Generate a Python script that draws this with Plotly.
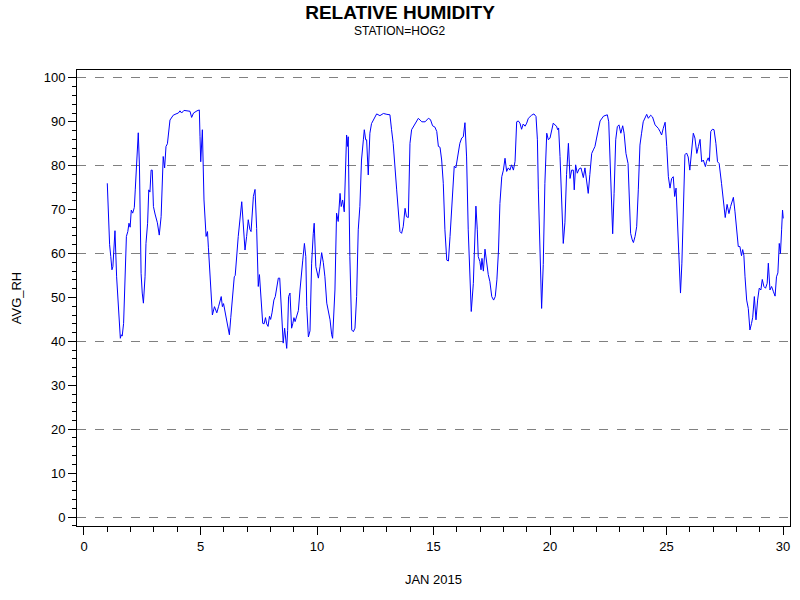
import plotly.graph_objects as go

days = [
    1.00, 1.04, 1.10, 1.15, 1.20, 1.24, 1.29, 1.33, 1.40, 1.47, 1.53, 1.56, 1.60, 1.64, 1.70, 1.76, 1.82, 1.88, 1.93, 1.98,
    2.03, 2.09, 2.16, 2.20, 2.27, 2.33, 2.38, 2.45, 2.50, 2.55, 2.62, 2.66, 2.73, 2.78, 2.83, 2.88, 2.93, 2.98,
    3.05, 3.15, 3.23, 3.31, 3.40, 3.46, 3.52, 3.58, 3.69, 3.83, 3.95,
    4.05, 4.12, 4.19, 4.29, 4.40, 4.55, 4.62, 4.70, 4.85, 4.95, 4.98,
    5.01, 5.08, 5.15, 5.24, 5.30, 5.34, 5.41, 5.51, 5.60, 5.70, 5.78, 5.89, 5.94, 5.99,
    6.08, 6.15, 6.24, 6.30, 6.38, 6.45, 6.49, 6.55, 6.62, 6.77, 6.84, 6.91, 6.98,
    7.05, 7.12, 7.17, 7.27, 7.34, 7.41, 7.48, 7.53, 7.60, 7.67, 7.73, 7.79, 7.84, 7.90, 7.96,
    8.01, 8.07, 8.15, 8.21, 8.27, 8.34, 8.40, 8.46, 8.51, 8.55, 8.61, 8.70, 8.74, 8.78, 8.84, 8.91, 8.96,
    9.01, 9.06, 9.13, 9.20, 9.27, 9.33, 9.39, 9.46, 9.52, 9.56, 9.63, 9.70, 9.77, 9.84, 9.88, 9.95,
    10.06, 10.13, 10.20, 10.27, 10.34, 10.42, 10.49, 10.56, 10.63, 10.67, 10.77, 10.84, 10.91, 10.99,
    11.04, 11.10, 11.17, 11.27, 11.31, 11.34, 11.41, 11.49, 11.56, 11.63, 11.70, 11.77, 11.84, 11.91, 11.99,
    12.03, 12.09, 12.13, 12.20, 12.27, 12.34, 12.45, 12.56, 12.70, 12.85,
    13.00, 13.13, 13.20, 13.27, 13.42, 13.56, 13.63, 13.70, 13.78, 13.84, 13.92, 13.99,
    14.06, 14.21, 14.35, 14.50, 14.64, 14.78, 14.87, 14.96,
    15.06, 15.14, 15.21, 15.28, 15.35, 15.42, 15.49, 15.57, 15.64, 15.71, 15.78, 15.85, 15.89, 15.96,
    16.06, 16.13, 16.21, 16.28, 16.35, 16.42, 16.49, 16.57, 16.62, 16.71, 16.78, 16.82, 16.88, 16.92, 16.99,
    17.04, 17.08, 17.14, 17.21, 17.28, 17.35, 17.42, 17.50, 17.58, 17.65, 17.72, 17.79, 17.85, 17.93,
    18.00, 18.07, 18.14, 18.21, 18.28, 18.35, 18.43, 18.50, 18.57, 18.64, 18.71, 18.78, 18.85, 18.93,
    19.00, 19.07, 19.21, 19.31, 19.40, 19.46, 19.50, 19.57, 19.64, 19.71, 19.78, 19.86, 19.93,
    20.00, 20.07, 20.14, 20.21, 20.28, 20.33, 20.37, 20.43, 20.50, 20.57, 20.64, 20.71, 20.79, 20.86, 20.93,
    21.00, 21.04, 21.10, 21.17, 21.25, 21.33, 21.43, 21.50, 21.57, 21.64, 21.71, 21.79, 21.86, 21.93,
    22.00, 22.07, 22.15, 22.30, 22.46, 22.52, 22.58, 22.64, 22.69, 22.75, 22.82, 22.89, 22.96,
    23.04, 23.12, 23.18, 23.26, 23.35, 23.40, 23.46, 23.53, 23.58, 23.65, 23.72, 23.79, 23.86, 23.93,
    24.00, 24.15, 24.22, 24.32, 24.40, 24.51, 24.58, 24.65, 24.72, 24.79, 24.86, 24.94,
    25.01, 25.08, 25.15, 25.22, 25.29, 25.35, 25.41, 25.48, 25.55, 25.60, 25.66, 25.72, 25.79, 25.86, 25.93,
    26.00, 26.08, 26.15, 26.22, 26.30, 26.37, 26.44, 26.51, 26.58, 26.67, 26.72, 26.79, 26.84, 26.90, 26.97,
    27.04, 27.12, 27.19, 27.26, 27.36, 27.44, 27.52, 27.60, 27.68, 27.75, 27.87, 27.94,
    28.01, 28.08, 28.15, 28.22, 28.27, 28.32, 28.37, 28.44, 28.51, 28.58, 28.65, 28.70, 28.77, 28.84, 28.91, 28.98,
    29.05, 29.11, 29.18, 29.25, 29.32, 29.37, 29.44, 29.51, 29.59, 29.66, 29.72, 29.78, 29.84, 29.89, 29.94, 29.98,
    30.01,
]

avg_rh = [
    76.0, 70.0, 62.0, 59.3, 56.3, 57.0, 63.9, 65.2, 54.7, 47.2, 42.0, 40.7, 41.5, 41.2, 44.1, 54.7, 63.9, 65.0, 66.9, 66.0,
    69.9, 69.2, 70.5, 74.5, 82.1, 87.5, 80.0, 55.5, 51.0, 48.7, 54.7, 62.3, 66.9, 74.5, 74.0, 79.0, 79.0, 70.7,
    69.0, 67.0, 64.2, 68.4, 82.1, 79.5, 84.4, 85.0, 90.4, 91.5, 91.8,
    92.0, 92.5, 92.0, 92.6, 92.5, 92.4, 91.0, 92.0, 92.5, 92.7, 86.6,
    80.9, 88.2, 72.2, 63.9, 65.0, 61.3, 54.7, 46.0, 47.9, 46.5, 48.0, 50.2, 47.9, 48.6,
    46.0, 43.7, 41.5, 45.4, 51.7, 54.7, 55.0, 60.0, 63.9, 71.8, 66.0, 60.8, 63.9,
    67.7, 65.5, 65.0, 73.0, 74.6, 65.7, 52.5, 55.2, 50.2, 44.1, 44.0, 45.4, 44.0, 43.4, 45.7,
    45.0, 46.5, 49.4, 50.2, 52.5, 54.4, 54.4, 47.9, 41.8, 39.6, 43.0, 38.4, 42.5, 50.2, 51.0, 43.0, 44.0,
    45.4, 44.5, 45.9, 47.0, 51.7, 54.4, 58.5, 62.3, 59.3, 47.9, 41.0, 42.4, 57.8, 64.6, 66.9, 57.0,
    54.4, 57.0, 60.2, 58.0, 54.7, 48.7, 46.5, 44.9, 41.5, 40.7, 51.7, 69.2, 67.3, 73.7,
    70.7, 72.2, 69.5, 87.0, 84.4, 86.6, 59.3, 42.6, 42.2, 43.0, 50.2, 65.4, 70.7, 81.3, 85.9,
    88.2, 85.9, 85.9, 77.9, 87.4, 89.6, 90.8, 91.8, 91.4, 91.9,
    91.7, 91.6, 88.2, 85.1, 74.5, 65.0, 64.6, 66.1, 70.3, 68.4, 68.2, 85.1,
    88.2, 89.7, 90.8, 90.0, 90.0, 90.8, 90.5, 89.1,
    88.8, 87.8, 84.4, 84.2, 81.3, 76.0, 65.4, 58.5, 58.3, 63.9, 70.7, 77.5, 79.9, 79.5,
    82.8, 85.1, 86.3, 86.6, 89.8, 82.0, 65.4, 51.7, 46.8, 53.2, 65.4, 70.8, 65.4, 59.3, 58.2,
    56.3, 58.9, 56.0, 61.0, 57.8, 55.2, 53.6, 50.2, 49.4, 50.2, 54.0, 60.8, 71.4, 77.5,
    79.0, 81.7, 78.7, 79.5, 79.0, 80.2, 79.0, 81.0, 90.0, 90.2, 89.7, 88.3, 89.5, 89.0,
    89.7, 90.8, 91.5, 91.8, 91.2, 85.9, 74.5, 59.3, 47.5, 57.5, 76.0, 87.4, 85.9,
    86.3, 88.2, 89.7, 89.3, 89.0, 88.2, 88.6, 82.1, 70.7, 62.3, 67.0, 78.0, 85.1, 77.1, 79.0,
    79.0, 74.5, 80.2, 78.3, 79.3, 79.5, 77.3, 79.5, 76.5, 73.7, 78.0, 82.8, 83.6, 84.4,
    86.3, 88.5, 90.2, 91.3, 91.6, 90.0, 80.5, 70.7, 64.5, 73.7, 85.9, 88.9, 89.3,
    87.4, 89.1, 87.4, 82.8, 80.5, 72.2, 64.6, 63.1, 62.5, 63.9, 66.1, 74.5, 84.7, 87.4,
    90.0, 91.7, 90.8, 91.5, 91.1, 89.3, 88.9, 88.5, 87.8, 87.0, 88.5, 89.9,
    84.4, 77.5, 74.9, 77.1, 77.5, 73.0, 74.9, 65.4, 57.0, 51.0, 57.8, 70.7, 82.5, 82.9, 82.0,
    79.0, 82.8, 87.4, 86.3, 82.8, 84.4, 86.0, 80.9, 81.3, 79.8, 81.0, 81.8, 81.0, 87.8, 88.3,
    88.2, 85.1, 80.9, 80.5, 76.0, 72.2, 68.2, 71.2, 69.1, 70.7, 72.8, 69.5,
    65.4, 61.6, 61.6, 59.5, 60.9, 59.6, 54.7, 49.4, 47.5, 42.6, 44.1, 45.5, 50.2, 44.9, 49.4, 52.1,
    51.7, 54.1, 52.5, 52.1, 53.2, 57.8, 51.7, 52.5, 51.3, 50.3, 54.7, 55.6, 62.3, 60.0, 65.4, 69.9,
    68.0,
]

x_ticks = [0, 5, 10, 15, 20, 25, 30]
y_ticks = [0, 10, 20, 30, 40, 50, 60, 70, 80, 90, 100]
grid_levels = [0, 20, 40, 60, 80, 100]

FONT = "Liberation Sans, Arial, sans-serif"

fig = go.Figure()
fig.add_trace(go.Scatter(
    x=days, y=avg_rh, mode="lines",
    line=dict(color="#0000FF", width=1),
    showlegend=False, hoverinfo="x+y",
))

yrange = [-2.05, 101.8]

fig.update_layout(
    width=800, height=600,
    paper_bgcolor="white", plot_bgcolor="white",
    margin=dict(l=77, r=10, t=70, b=74, autoexpand=False),
    font=dict(family=FONT, size=13, color="black"),
    title=dict(
        text="<b>RELATIVE HUMIDITY</b>",
        x=0.5, xanchor="center", xref="container",
        y=1 - 12 / 600, yanchor="middle", yref="container",
        font=dict(family=FONT, size=19, color="black"),
    ),
    annotations=[dict(
        text="STATION=HOG2", xref="paper", yref="paper",
        x=(400 - 77) / 713, y=1 + (70 - 31) / 456, xanchor="center", yanchor="middle",
        showarrow=False, font=dict(family=FONT, size=12, color="black"),
    )],
    xaxis=dict(
        range=[-0.3, 30.3], tickvals=x_ticks, ticktext=[str(v) for v in x_ticks],
        ticks="outside", ticklen=8, tickwidth=1, tickcolor="black",
        minor=dict(dtick=1, ticks="outside", ticklen=5, tickwidth=1, tickcolor="black", showgrid=False),
        showline=True, linecolor="black", linewidth=1, mirror=True,
        showgrid=False, zeroline=False,
        title=dict(text="JAN 2015", font=dict(size=13), standoff=22),
        tickfont=dict(size=13),
    ),
    yaxis=dict(
        range=yrange, tickvals=y_ticks, ticktext=[str(v) for v in y_ticks],
        ticks="outside", ticklen=8, tickwidth=1, tickcolor="black",
        minor=dict(dtick=2, ticks="outside", ticklen=4, tickwidth=1, tickcolor="black", showgrid=False),
        showline=True, linecolor="black", linewidth=1, mirror=True,
        showgrid=False, zeroline=False,
        title=dict(text="AVG_RH", font=dict(size=13), standoff=19),
        tickfont=dict(size=13),
    ),
    yaxis2=dict(
        overlaying="y", range=yrange, tickvals=grid_levels,
        showticklabels=False, ticks="", showline=False, zeroline=False,
        showgrid=True, gridcolor="#808080", gridwidth=1, griddash="dash",
    ),
)

# invisible trace to activate the grid axis
fig.add_trace(go.Scatter(x=[days[0]], y=[avg_rh[0]], yaxis="y2", mode="markers",
                         marker=dict(opacity=0), showlegend=False, hoverinfo="skip"))

fig.write_html("out.html", config={"displayModeBar": False},
               post_script="document.body.style.margin='0';")
